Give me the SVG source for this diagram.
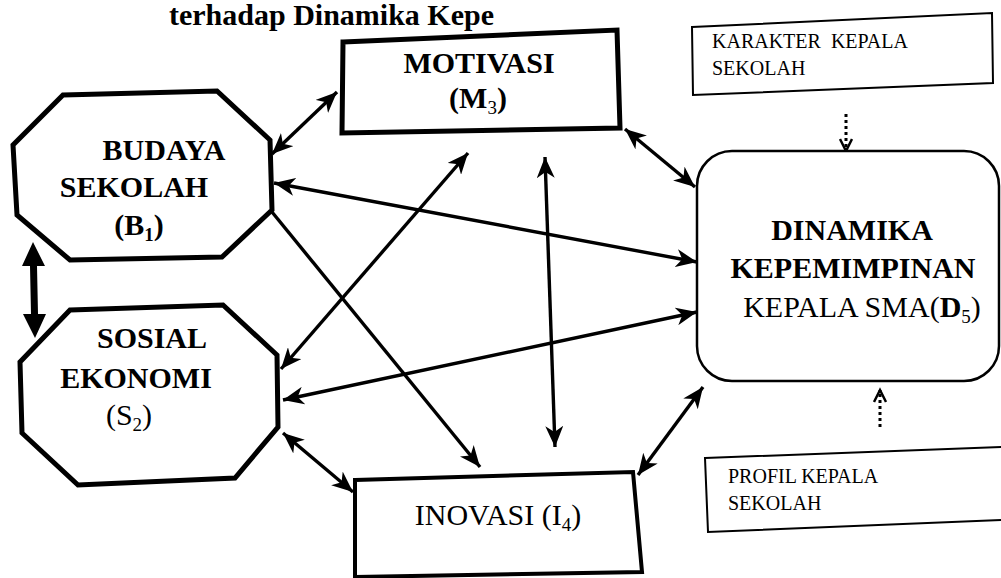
<svg xmlns="http://www.w3.org/2000/svg" width="1001" height="578" viewBox="0 0 1001 578">
<style>
.node{fill:#fff;stroke:#000;stroke-linejoin:miter}
.bold{font-family:"Liberation Serif","Times New Roman",serif;font-weight:bold;font-size:30px;fill:#000}
.reg{font-family:"Liberation Serif","Times New Roman",serif;font-size:30px;fill:#000}
.small{font-family:"Liberation Serif","Times New Roman",serif;font-size:20px;fill:#000}
.conn{stroke:#000;stroke-width:3.4;fill:none}
.dot{stroke:#000;stroke-width:3;fill:none;stroke-dasharray:3 3}
</style>
<defs>
<marker id="ah" markerUnits="userSpaceOnUse" markerWidth="24" markerHeight="18" refX="21" refY="9" orient="auto-start-reverse">
<path d="M0,0 L21,9 L0,18 L6,9 z" fill="#000"/>
</marker>
<marker id="open" markerUnits="userSpaceOnUse" markerWidth="16" markerHeight="14" refX="13" refY="7" orient="auto">
<path d="M1,1 L13,7 L1,13" fill="none" stroke="#000" stroke-width="2.5"/>
</marker>
</defs>
<rect width="1001" height="578" fill="#fff"/>
<g id="title">
<text class="bold" x="169" y="25" font-size="26">terhadap Dinamika Kepe</text>
</g>
<g id="connectors">
<line class="conn" x1="272" y1="154" x2="337" y2="92" marker-start="url(#ah)" marker-end="url(#ah)"/>
<line class="conn" x1="274" y1="183" x2="697" y2="262" marker-start="url(#ah)" marker-end="url(#ah)"/>
<line class="conn" x1="272" y1="212" x2="480" y2="467" marker-end="url(#ah)"/>
<line class="conn" x1="281" y1="369" x2="468" y2="153" marker-start="url(#ah)" marker-end="url(#ah)"/>
<line class="conn" x1="283" y1="400" x2="697" y2="312" marker-start="url(#ah)" marker-end="url(#ah)"/>
<line class="conn" x1="283" y1="433" x2="353" y2="492" marker-start="url(#ah)" marker-end="url(#ah)"/>
<line class="conn" x1="545" y1="157" x2="555" y2="447" marker-start="url(#ah)" marker-end="url(#ah)"/>
<line class="conn" x1="625" y1="129" x2="695" y2="187" marker-start="url(#ah)" marker-end="url(#ah)"/>
<line class="conn" x1="638" y1="475" x2="703" y2="387" marker-start="url(#ah)" marker-end="url(#ah)"/>
<path d="M33,242 L45,266 L37,266 L38,314 L46,314 L35,338 L23,314 L31,314 L30,266 L22,266 Z" fill="#000"/>
<line class="dot" x1="846" y1="114" x2="846" y2="151" marker-end="url(#open)"/>
<line class="dot" x1="880" y1="427" x2="880" y2="390" marker-end="url(#open)"/>
</g>
<g id="budaya">
<polygon class="node" stroke-width="5" points="63,95 217,91 270,140 272,210 222,257 70,260 17,215 13,145"/>
<text class="bold" x="164" y="160" text-anchor="middle">BUDAYA</text>
<text class="bold" x="134" y="197" text-anchor="middle">SEKOLAH</text>
<text class="bold" x="139" y="235" text-anchor="middle">(B<tspan font-size="19" dy="6">1</tspan><tspan dy="-6">)</tspan></text>
</g>
<g id="sosial">
<polygon class="node" stroke-width="5" points="70,310 223,305 277,355 278,427 235,478 78,485 22,433 20,362"/>
<text class="bold" x="152" y="348" text-anchor="middle">SOSIAL</text>
<text class="bold" x="136" y="388" text-anchor="middle">EKONOMI</text>
<text class="reg" x="129" y="425" text-anchor="middle">(S<tspan font-size="19" dy="6">2</tspan><tspan dy="-6">)</tspan></text>
</g>
<g id="motivasi">
<polygon class="node" stroke-width="5" points="343,42 617,30 620,128 342,133"/>
<text class="bold" x="479" y="73" text-anchor="middle">MOTIVASI</text>
<text class="bold" x="478" y="108" text-anchor="middle">(M<tspan font-size="19" font-weight="normal" dy="6">3</tspan><tspan dy="-6">)</tspan></text>
</g>
<g id="inovasi">
<polygon class="node" stroke-width="4" points="355,480 633,472 642,572 355,577"/>
<text class="reg" x="498" y="525" text-anchor="middle">INOVASI (I<tspan font-size="19" dy="6">4</tspan><tspan dy="-6">)</tspan></text>
</g>
<g id="dinamika">
<rect class="node" stroke-width="2.5" x="697" y="151" width="302" height="230" rx="35" ry="35"/>
<text class="bold" x="852" y="240" text-anchor="middle">DINAMIKA</text>
<text class="bold" x="853" y="278" text-anchor="middle">KEPEMIMPINAN</text>
<text class="reg" x="862" y="317" text-anchor="middle">KEPALA SMA(<tspan font-weight="bold">D</tspan><tspan font-size="19" dy="6">5</tspan><tspan dy="-6">)</tspan></text>
</g>
<g id="karakter">
<polygon class="node" stroke-width="2" points="692,27 992,13 993,83 693,95"/>
<text class="small" x="712" y="48" font-size="21" word-spacing="5">KARAKTER KEPALA</text>
<text class="small" x="712" y="75">SEKOLAH</text>
</g>
<g id="profil">
<polygon class="node" stroke-width="2" points="705,458 1003,447 1003,520 708,532"/>
<text class="small" x="728" y="483">PROFIL KEPALA</text>
<text class="small" x="728" y="510">SEKOLAH</text>
</g>
</svg>
